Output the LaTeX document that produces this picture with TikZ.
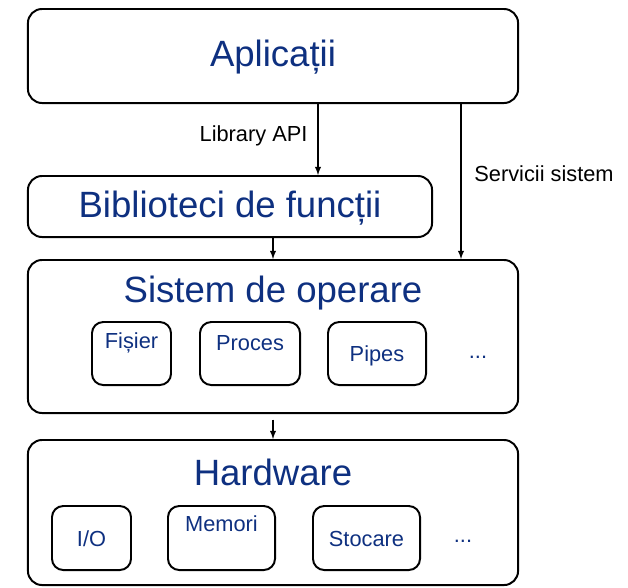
\documentclass[tikz,border=0pt]{standalone}
\usepackage{fontspec}
\setmainfont{Liberation Sans}
\usetikzlibrary{calc}
\definecolor{titlu}{RGB}{14,48,128}
\newcommand{\mare}{\fontsize{26}{30}\selectfont}
\newcommand{\mic}{\fontsize{15.5}{18}\selectfont}

\begin{document}
\begin{tikzpicture}[x=.025cm,y=-.025cm]
\tikzstyle{strat}=[draw,line width=1.4pt,rectangle,rounded corners=10pt,minimum width=12.25cm,inner sep=0pt]
\tikzstyle{cutie}=[draw,line width=1.4pt,rectangle,rounded corners=8pt,minimum height=1.6cm,inner sep=0pt]
\tikzstyle{titlu}=[text=titlu,font=\mare,inner sep=0pt]
\tikzstyle{eticheta}=[text=titlu,font=\mic,inner sep=0pt]
\tikzstyle{sageata}=[-latex,line width=1pt]
\useasboundingbox (0,0) rectangle (628,587);

% Straturile principale
\node[strat,minimum height=2.35cm] (aplicatii) at (273,56) {};
\node[titlu] (taplicatii) at (273,57) {Aplicații};
\node[strat,minimum width=10.1cm,minimum height=1.525cm] (biblioteci) at (230,206.5) {};
\node[titlu] (tbiblioteci) at (230,208) {Biblioteci de funcții};
\node[strat,minimum height=3.825cm] (sistem) at (273,336.5) {};
\node[titlu] (tsistem) at (273,293) {Sistem de operare};
\node[strat,minimum height=3.625cm] (hardware) at (273,512.5) {};
\node[titlu] (thardware) at (273,472) {Hardware};

% Componentele sistemului de operare
\node[cutie,minimum width=1.975cm,minimum height=1.575cm] (fisier) at (131.5,353.5) {};
\node[eticheta] (tfisier) at (131.5,343) {Fișier};
\node[cutie,minimum width=2.5cm,minimum height=1.575cm] (proces) at (250,353.5) {};
\node[eticheta] (tproces) at (250,343) {Proces};
\node[cutie,minimum width=2.45cm,minimum height=1.575cm] (pipes) at (377,353.5) {};
\node[eticheta] (tpipes) at (377,356) {Pipes};
\node[eticheta] (altele1) at (478,357) {...};

% Componentele hardware
\node[cutie,minimum width=1.975cm] (io) at (91.5,538) {};
\node[eticheta] (tio) at (91.5,539) {I/O};
\node[cutie,minimum width=2.675cm] (memori) at (221.5,538) {};
\node[eticheta] (tmemori) at (221.5,524) {Memori};
\node[cutie,minimum width=2.675cm] (stocare) at (366.5,538) {};
\node[eticheta] (tstocare) at (366.5,539) {Stocare};
\node[eticheta] (altele2) at (463,541) {...};

% Apelurile intre straturi
\coordinate (api) at (318,0);
\coordinate (serv) at (461,0);
\draw[sageata] (aplicatii.south -| api) -- (biblioteci.north -| api) node[pos=0.45,left=7pt,inner sep=0pt,font=\mic] (tapi) {Library API};
\draw[sageata] (aplicatii.south -| serv) -- (sistem.north -| serv) node[pos=0.45,right=9pt,inner sep=0pt,font=\mic] (tserv) {Servicii sistem};
\draw[sageata] (biblioteci.south -| taplicatii) -- (sistem.north -| taplicatii);
\draw[sageata,shorten <=4pt] (sistem.south) -- (hardware.north);

\end{tikzpicture}
\end{document}
